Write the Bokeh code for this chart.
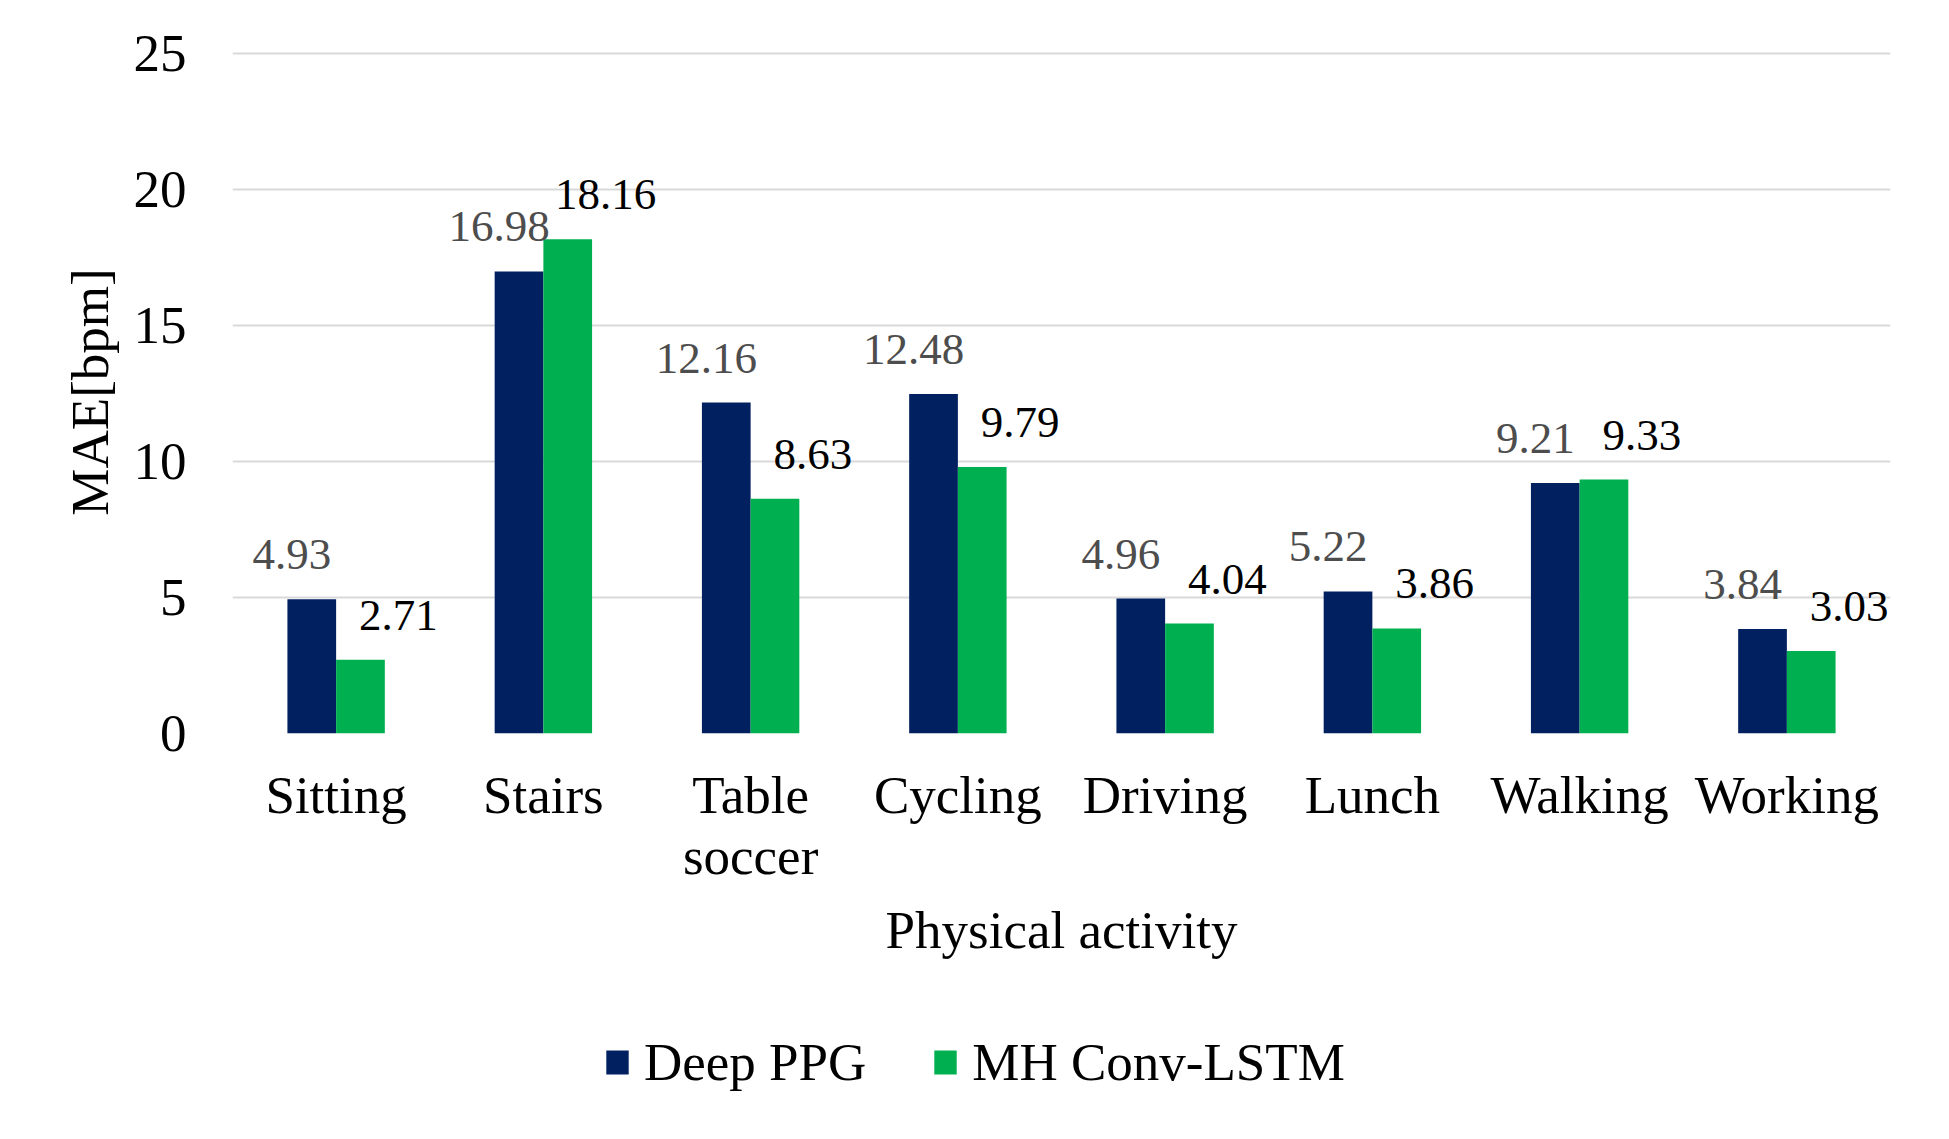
from bokeh.plotting import figure
from bokeh.layouts import column
from bokeh.models import (ColumnDataSource, FactorRange, LabelSet, Legend, LegendItem,
                          CategoricalAxis)
from bokeh.transform import dodge
from bokeh.embed import file_html
from bokeh.resources import INLINE

categories = ["Sitting", "Stairs", "Table soccer", "Cycling", "Driving", "Lunch", "Walking", "Working"]
label_line1 = ["Sitting", "Stairs", "Table", "Cycling", "Driving", "Lunch", "Walking", "Working"]
label_line2 = ["", "", "soccer", "", "", "", "", ""]
deep_ppg = [4.93, 16.98, 12.16, 12.48, 4.96, 5.22, 9.21, 3.84]
mh_conv_lstm = [2.71, 18.16, 8.63, 9.79, 4.04, 3.86, 9.33, 3.03]
series_names = ["Deep PPG", "MH Conv-LSTM"]
y_ticks = [0, 5, 10, 15, 20, 25]

FONT = "Liberation Serif"
BLUE = "#002060"
GREEN = "#00B050"

src = ColumnDataSource(dict(
    cat=categories,
    deep=deep_ppg,
    mh=mh_conv_lstm,
    deep_lbl=[f"{v:.2f}" for v in deep_ppg],
    mh_lbl=[f"{v:.2f}" for v in mh_conv_lstm],
))

p = figure(
    x_range=FactorRange(*categories, range_padding=0),
    y_range=(0, 25.1),
    width=1930, height=1000,
    output_backend="svg", toolbar_location=None,
    x_axis_location=None,
    min_border_left=232, min_border_right=40,
    min_border_top=50, min_border_bottom=267,
)
p.outline_line_color = None

# unique factor names for the two label lines (blank ones padded with spaces)
line1_factors = list(label_line1)
line2_factors = [t if t else " " * (i + 1) for i, t in enumerate(label_line2)]
p.extra_x_ranges = {
    "line1": FactorRange(*line1_factors, range_padding=0),
    "line2": FactorRange(*line2_factors, range_padding=0),
}

bw = 0.235
off = 0.1175
r1 = p.vbar(x=dodge("cat", -off, range=p.x_range), top="deep", width=bw, source=src,
            fill_color=BLUE, line_color=None)
r2 = p.vbar(x=dodge("cat", off, range=p.x_range), top="mh", width=bw, source=src,
            fill_color=GREEN, line_color=None)

l1 = LabelSet(x=dodge("cat", -off, range=p.x_range), y="deep", text="deep_lbl", source=src,
              x_offset=-20, y_offset=30, text_align="center", text_baseline="alphabetic",
              text_font=FONT, text_font_size="45px", text_color="#4D4D4D")
l2 = LabelSet(x=dodge("cat", off, range=p.x_range), y="mh", text="mh_lbl", source=src,
              x_offset=38, y_offset=30, text_align="center", text_baseline="alphabetic",
              text_font=FONT, text_font_size="45px", text_color="#000000")
p.add_layout(l1)
p.add_layout(l2)

p.xgrid.grid_line_color = None
p.ygrid.grid_line_color = "#D9D9D9"
p.ygrid.grid_line_width = 2
p.yaxis.ticker = y_ticks


def style_axis(ax):
    ax.axis_line_color = None
    ax.major_tick_line_color = None
    ax.minor_tick_line_color = None
    ax.major_tick_out = 0
    ax.major_tick_in = 0
    ax.major_label_text_font = FONT
    ax.major_label_text_font_size = "53px"
    ax.major_label_text_color = "#000000"
    ax.axis_label_text_font = FONT
    ax.axis_label_text_font_size = "53px"
    ax.axis_label_text_font_style = "normal"
    ax.axis_label_text_color = "#000000"


style_axis(p.yaxis[0])
p.yaxis.axis_label = "MAE[bpm]"
p.yaxis.major_label_standoff = 46
p.yaxis.axis_label_standoff = 12

xa1 = CategoricalAxis(x_range_name="line1")
style_axis(xa1)
xa1.major_label_standoff = 32
p.add_layout(xa1, "below")

xa2 = CategoricalAxis(x_range_name="line2")
style_axis(xa2)
xa2.major_label_standoff = 0
xa2.axis_label = "Physical activity"
xa2.axis_label_standoff = 13
p.add_layout(xa2, "below")

# legend strip below the chart (its swatch renderers sit outside the visible range)
p2 = figure(width=1930, height=120, output_backend="svg", toolbar_location=None,
            x_range=(0, 1), y_range=(0, 1), x_axis_location=None, y_axis_location=None,
            min_border_left=0, min_border_right=0, min_border_top=0, min_border_bottom=0)
p2.outline_line_color = None
p2.grid.visible = False
g1 = p2.vbar(x=[-5], top=[-5], width=0.1, fill_color=BLUE, line_color=None)
g2 = p2.vbar(x=[-5], top=[-5], width=0.1, fill_color=GREEN, line_color=None)

legend = Legend(
    items=[LegendItem(label=series_names[0], renderers=[g1]),
           LegendItem(label=series_names[1], renderers=[g2])],
    orientation="horizontal",
    location=(371, 28),
    glyph_width=28, glyph_height=30,
    label_standoff=13, spacing=65,
    padding=0, margin=0,
    border_line_color=None, background_fill_alpha=0,
    label_text_font=FONT, label_text_font_size="53px", label_text_color="#000000",
)
p2.add_layout(legend, "center")

open("out.html", "w").write(file_html(column(p, p2, spacing=0), INLINE))
